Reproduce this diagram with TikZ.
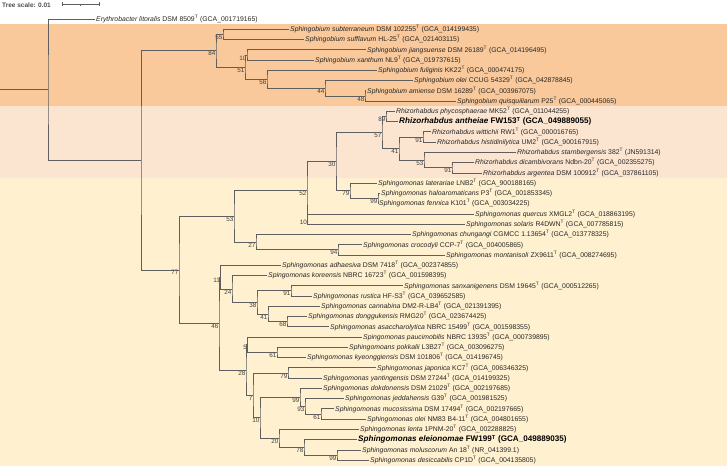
\documentclass[tikz,border=0pt]{standalone}
\usepackage{fontspec}
\setmainfont{Liberation Sans}
\usepackage{xcolor}
\usepackage{tikz}

\definecolor{sbiumband}{RGB}{249,201,155}
\definecolor{rhizband}{RGB}{252,229,208}
\definecolor{smonband}{RGB}{255,241,207}
\definecolor{branchgray}{RGB}{95,95,95}

\newcommand{\taxon}[3]{\textit{#1} #2\textsuperscript{T} (#3)}

\begin{document}
\begin{tikzpicture}[
  x=1pt, y=-10.26pt,
  br/.style={draw=branchgray, line width=0.8pt},
  leaf/.style={anchor=west, inner sep=1pt, text height=5.2pt, text depth=0.6pt, text=black!85, font=\fontsize{6.85}{8}\selectfont},
  keyleaf/.style={leaf, text=black, font=\fontsize{8.1}{9}\selectfont\bfseries},
  boot/.style={anchor=north east, inner sep=0.5pt, text=black!75, font=\fontsize{6.3}{7}\selectfont}
]
\useasboundingbox (0,-1.852) rectangle (727,43.567);
% clade bands
\fill[sbiumband] (0,0.5) rectangle (727,8.5);
\fill[rhizband] (0,8.5) rectangle (727,15.5);
\fill[smonband] (0,15.5) rectangle (727,43.567);

% tree scale
\node[anchor=west, inner sep=0, text=black!70, font=\fontsize{6.5}{8}\selectfont\bfseries] (scale) at (2,-1.37) {Tree scale: 0.01};
\draw[branchgray, line width=0.6pt] (62,-1.61) -- (62,-1.22) (62,-1.41) -- (99,-1.41) (99,-1.61) -- (99,-1.22) (80.5,-1.41) -- (80.5,-1.27);

% leaves, one row each
\node[leaf] (ery) at (95,0) {\taxon{Erythrobacter litoralis}{DSM 8509}{GCA\_001719165}};
\node[leaf] (sbsub) at (289,1) {\taxon{Sphingobium subterraneum}{DSM 102255}{GCA\_014199435}};
\node[leaf] (sbsuf) at (304,2) {\taxon{Sphingobium sufflavum}{HL-25}{GCA\_021403115}};
\node[leaf] (sbjia) at (366,3) {\taxon{Sphingobium jiangsuense}{DSM 26189}{GCA\_014196495}};
\node[leaf] (sbxan) at (314,4) {\taxon{Sphingobium xanthum}{NL9}{GCA\_019737615}};
\node[leaf] (sbful) at (377,5) {\taxon{Sphingobium fuliginis}{KK22}{GCA\_000474175}};
\node[leaf] (sbole) at (413,6) {\taxon{Sphingobium olei}{CCUG 54329}{GCA\_042878845}};
\node[leaf] (sbami) at (366,7) {\taxon{Sphingobium amiense}{DSM 16289}{GCA\_003967075}};
\node[leaf] (sbqui) at (456,8) {\taxon{Sphingobium quisquiliarum}{P25}{GCA\_000445065}};
\node[leaf] (rhphy) at (395,9) {\taxon{Rhizorhabdus phycosphaerae}{MK52}{GCA\_011044255}};
\node[keyleaf] (rhant) at (398,10) {\taxon{Rhizorhabdus antheiae}{FW153}{GCA\_049889055}};
\node[leaf] (rhwit) at (431,11) {\taxon{Rhizorhabdus wittichii}{RW1}{GCA\_000016765}};
\node[leaf] (rhhis) at (436,12) {\taxon{Rhizorhabdus histidinilytica}{UM2}{GCA\_900167915}};
\node[leaf] (rhsta) at (516,13) {\taxon{Rhizorhabdus starnbergensis}{382}{JN591314}};
\node[leaf] (rhdic) at (474,14) {\taxon{Rhizorhabdus dicambivorans}{Ndbn-20}{GCA\_002355275}};
\node[leaf] (rharg) at (482,15) {\taxon{Rhizorhabdus argentea}{DSM 100912}{GCA\_037861105}};
\node[leaf] (smlat) at (377,16) {\taxon{Sphingomonas laterariae}{LNB2}{GCA\_900188165}};
\node[leaf] (smhal) at (380,17) {\taxon{Sphingomonas haloaromaticans}{P3}{GCA\_001853345}};
\node[leaf] (smfen) at (378,18) {\taxon{Sphingomonas fennica}{K101}{GCA\_003034225}};
\node[leaf] (smque) at (474,19) {\taxon{Sphingomonas quercus}{XMGL2}{GCA\_018863195}};
\node[leaf] (smsol) at (465,20) {\taxon{Sphingomonas solaris}{R4DWN}{GCA\_007785815}};
\node[leaf] (smchu) at (411,21) {\taxon{Sphingomonas chungangi}{CGMCC 1.13654}{GCA\_013778325}};
\node[leaf] (smcro) at (362,22) {\taxon{Sphingomonas crocodyli}{CCP-7}{GCA\_004005865}};
\node[leaf] (smmon) at (445,23) {\taxon{Sphingomonas montanisoli}{ZX9611}{GCA\_008274695}};
\node[leaf] (smadh) at (281,24) {\taxon{Sphingomonas adhaesiva}{DSM 7418}{GCA\_002374855}};
\node[leaf] (smkor) at (267,25) {\taxon{Spingomonas koreensis}{NBRC 16723}{GCA\_001598395}};
\node[leaf] (smsan) at (403,26) {\taxon{Sphingomonas sanxanigenens}{DSM 19645}{GCA\_000512265}};
\node[leaf] (smrus) at (312,27) {\taxon{Sphingomonas rustica}{HF-S3}{GCA\_039652585}};
\node[leaf] (smcan) at (320,28) {\taxon{Sphingomonas cannabina}{DM2-R-LB4}{GCA\_021391395}};
\node[leaf] (smdon) at (307,29) {\taxon{Sphingomonas donggukensis}{RMG20}{GCA\_023674425}};
\node[leaf] (smasa) at (329,30) {\taxon{Sphingomonas asaccharolytica}{NBRC 15499}{GCA\_001598355}};
\node[leaf] (smpau) at (362,31) {\taxon{Spingomonas paucimobilis}{NBRC 13935}{GCA\_000739895}};
\node[leaf] (smpok) at (348,32) {\taxon{Sphingomoans pokkalii}{L3B27}{GCA\_003096275}};
\node[leaf] (smkye) at (306,33) {\taxon{Sphingomonas kyeonggiensis}{DSM 101806}{GCA\_014196745}};
\node[leaf] (smjap) at (376,34) {\taxon{Sphingomonas japonica}{KC7}{GCA\_006346325}};
\node[leaf] (smyan) at (322,35) {\taxon{Sphingomonas yantingensis}{DSM 27244}{GCA\_014199325}};
\node[leaf] (smdok) at (322,36) {\taxon{Sphingomonas dokdonensis}{DSM 21029}{GCA\_002197685}};
\node[leaf] (smjed) at (344,37) {\taxon{Sphingomonas jeddahensis}{G39}{GCA\_001981525}};
\node[leaf] (smmuc) at (334,38) {\taxon{Sphingomonas mucosissima}{DSM 17494}{GCA\_002197665}};
\node[leaf] (smole) at (366,39) {\taxon{Sphingomonas olei}{NM83 B4-11}{GCA\_004801655}};
\node[leaf] (smlen) at (359,40) {\taxon{Sphingomonas lenta}{1PNM-20}{GCA\_002288825}};
\node[keyleaf] (smele) at (357,41) {\taxon{Sphingomonas eleionomae}{FW199}{GCA\_049889035}};
\node[leaf] (smmol) at (361,42) {\taxon{Sphingomonas moluscorum}{An 18}{NR\_041399.1}};
\node[leaf] (smdes) at (369,43) {\taxon{Sphingomonas desiccabilis}{CP1D}{GCA\_004135805}};

% internal nodes with bootstrap values
\coordinate (stub) at (0,6.8877);
\coordinate (root) at (48,6.8877);
\coordinate (nsm) at (141,13.7754);
\coordinate[label={[boot]225:84}] (n84) at (216,3.0938);
\coordinate[label={[boot]225:55}] (n55) at (223,1.5);
\coordinate[label={[boot]225:51}] (n51) at (245,4.6875);
\coordinate[label={[boot]225:10}] (n10a) at (247,3.5);
\coordinate[label={[boot]225:56}] (n56) at (267,5.875);
\coordinate[label={[boot]225:44}] (n44) at (325,6.75);
\coordinate[label={[boot]225:48}] (n48) at (365,7.5);
\coordinate[label={[boot]225:77}] (n77) at (179,24.457);
\coordinate[label={[boot]225:53}] (n53a) at (234,19.2266);
\coordinate[label={[boot]225:52}] (n52) at (307,16.7031);
\coordinate[label={[boot]225:30}] (n30) at (336,13.9063);
\coordinate[label={[boot]225:57}] (n57) at (382,11.0625);
\coordinate[label={[boot]225:89}] (n89) at (386,9.5);
\coordinate[label={[boot]225:41}] (n41a) at (399,12.625);
\coordinate[label={[boot]225:91}] (n91a) at (423,11.5);
\coordinate[label={[boot]225:53}] (n53b) at (424,13.75);
\coordinate[label={[boot]225:91}] (n91b) at (452,14.5);
\coordinate[label={[boot]225:79}] (n79a) at (350,16.75);
\coordinate[label={[boot]225:99}] (n99a) at (378,17.5);
\coordinate[label={[boot]225:10}] (n10b) at (307.5,19.5);
\coordinate[label={[boot]225:27}] (n27) at (256,21.75);
\coordinate[label={[boot]225:94}] (n94) at (338,22.5);
\coordinate[label={[boot]225:46}] (n46) at (219,29.6875);
\coordinate[label={[boot]225:11}] (n11) at (220.5,25.1563);
\coordinate[label={[boot]225:24}] (n24) at (232,26.3125);
\coordinate[label={[boot]225:38}] (n38) at (257,27.625);
\coordinate[label={[boot]225:91}] (n91c) at (291,26.5);
\coordinate[label={[boot]225:41}] (n41b) at (268,28.75);
\coordinate[label={[boot]225:68}] (n68) at (287,29.5);
\coordinate[label={[boot]225:28}] (n28) at (246,34.2188);
\coordinate[label={[boot]225:5}] (n5) at (247.5,31.75);
\coordinate[label={[boot]225:61}] (n61a) at (277,32.5);
\coordinate[label={[boot]225:7}] (n7) at (253,36.6875);
\coordinate[label={[boot]225:79}] (n79b) at (288,34.5);
\coordinate[label={[boot]225:10}] (n10c) at (260,38.875);
\coordinate[label={[boot]225:99}] (n99b) at (300,36.875);
\coordinate[label={[boot]225:93}] (n93) at (305,37.75);
\coordinate[label={[boot]225:61}] (n61b) at (321,38.5);
\coordinate[label={[boot]225:20}] (n20) at (279,40.875);
\coordinate[label={[boot]225:78}] (n78) at (304,41.75);
\coordinate[label={[boot]225:99}] (n99c) at (337,42.5);

% branches
\draw[br] (sbsub) -| (n55) |- (sbsuf);
\draw[br] (sbjia) -| (n10a) |- (sbxan);
\draw[br] (sbami) -| (n48) |- (sbqui);
\draw[br] (sbole) -| (n44) |- (n48);
\draw[br] (sbful) -| (n56) |- (n44);
\draw[br] (n10a) -| (n51) |- (n56);
\draw[br] (n55) -| (n84) |- (n51);
\draw[br] (rhphy) -| (n89) |- (rhant);
\draw[br] (rhwit) -| (n91a) |- (rhhis);
\draw[br] (rhdic) -| (n91b) |- (rharg);
\draw[br] (rhsta) -| (n53b) |- (n91b);
\draw[br] (n91a) -| (n41a) |- (n53b);
\draw[br] (n89) -| (n57) |- (n41a);
\draw[br] (smhal) -| (n99a) |- (smfen);
\draw[br] (smlat) -| (n79a) |- (n99a);
\draw[br] (n57) -| (n30) |- (n79a);
\draw[br] (smque) -| (n10b) |- (smsol);
\draw[br] (n30) -| (n52) |- (n10b);
\draw[br] (smcro) -| (n94) |- (smmon);
\draw[br] (smchu) -| (n27) |- (n94);
\draw[br] (n52) -| (n53a) |- (n27);
\draw[br] (smsan) -| (n91c) |- (smrus);
\draw[br] (smdon) -| (n68) |- (smasa);
\draw[br] (smcan) -| (n41b) |- (n68);
\draw[br] (n91c) -| (n38) |- (n41b);
\draw[br] (smkor) -| (n24) |- (n38);
\draw[br] (smadh) -| (n11) |- (n24);
\draw[br] (smpok) -| (n61a) |- (smkye);
\draw[br] (smpau) -| (n5) |- (n61a);
\draw[br] (smjap) -| (n79b) |- (smyan);
\draw[br] (smmuc) -| (n61b) |- (smole);
\draw[br] (smjed) -| (n93) |- (n61b);
\draw[br] (smdok) -| (n99b) |- (n93);
\draw[br] (smmol) -| (n99c) |- (smdes);
\draw[br] (smele) -| (n78) |- (n99c);
\draw[br] (smlen) -| (n20) |- (n78);
\draw[br] (n99b) -| (n10c) |- (n20);
\draw[br] (n79b) -| (n7) |- (n10c);
\draw[br] (n5) -| (n28) |- (n7);
\draw[br] (n11) -| (n46) |- (n28);
\draw[br] (n53a) -| (n77) |- (n46);
\draw[br] (n84) -| (nsm) |- (n77);
\draw[br] (ery) -| (root) |- (nsm);
\draw[br] (stub) -- (root);
\end{tikzpicture}
\end{document}
